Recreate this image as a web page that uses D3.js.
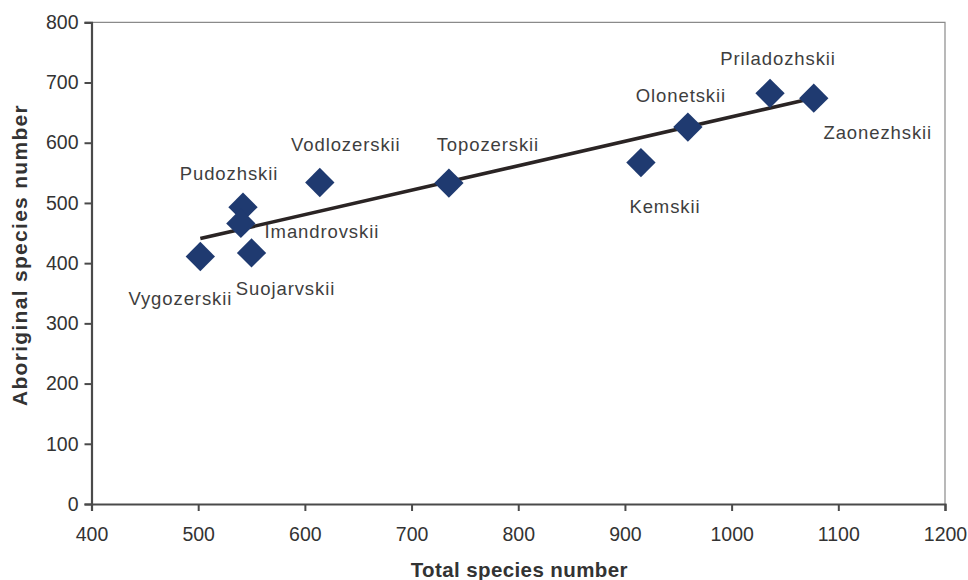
<!DOCTYPE html>
<html>
<head>
<meta charset="utf-8">
<script src="https://cdn.jsdelivr.net/npm/d3@7"></script>
<style>
  html, body { margin: 0; padding: 0; background: #fff; }
  svg { display: block; font-family: Arial, "Liberation Sans", sans-serif; }
</style>
</head>
<body>
<svg id="chart" width="968" height="580"></svg>
<script>
// Floristic districts: total vs aboriginal species counts
const districts = ["Vygozerskii", "Suojarvskii", "Pudozhskii", "Imandrovskii", "Vodlozerskii",
                   "Topozerskii", "Kemskii", "Olonetskii", "Priladozhskii", "Zaonezhskii"];
const totalSpecies      = [502, 550, 542, 540, 614, 735, 915, 959, 1036, 1077];
const aboriginalSpecies = [411, 417, 493, 466, 534, 533, 567, 626, 682, 674];

const xTicks = [400, 500, 600, 700, 800, 900, 1000, 1100, 1200];
const yTicks = [0, 100, 200, 300, 400, 500, 600, 700, 800];

// label offsets (dx, dy) relative to each marker, in px
const labelOffsets = [
  [-20, 42], [34, 36], [-14, -34], [81, 8], [26, -38],
  [39, -39], [24, 44], [-7, -32], [8, -35], [64, 34]
];

const svg = d3.select("#chart");
const plotLeft = 91.5, plotRight = 945, plotTop = 22.3, plotBottom = 504;

const x = d3.scaleLinear().domain([400, 1200]).range([plotLeft, plotRight]);
const y = d3.scaleLinear().domain([0, 800]).range([plotBottom, plotTop]);

// frame: thin top/right border
svg.append("path")
  .attr("d", `M${plotLeft},${plotTop}H${plotRight}V${plotBottom}`)
  .attr("fill", "none").attr("stroke", "#8a8a8a").attr("stroke-width", 1.2);

// axes
const xAxis = svg.append("g").attr("transform", `translate(0,${plotBottom})`)
  .call(d3.axisBottom(x).tickValues(xTicks).tickFormat(d3.format("d")).tickSize(7).tickPadding(12));
const yAxis = svg.append("g").attr("transform", `translate(${plotLeft},0)`)
  .call(d3.axisLeft(y).tickValues(yTicks).tickFormat(d3.format("d")).tickSize(7).tickPadding(6));

[xAxis, yAxis].forEach(g => {
  g.select(".domain").attr("stroke", "#4a4a4a").attr("stroke-width", 2.2);
  g.selectAll(".tick line").attr("stroke", "#4a4a4a").attr("stroke-width", 2);
  g.selectAll(".tick text").attr("fill", "#333").attr("font-size", 19.5)
    .attr("font-family", "Arial, 'Liberation Sans', sans-serif");
});
xAxis.selectAll(".tick text").attr("dy", "0.9em");

// least-squares trend line across the data range
const n = totalSpecies.length;
const mx = d3.mean(totalSpecies), my = d3.mean(aboriginalSpecies);
let sxy = 0, sxx = 0;
for (let i = 0; i < n; i++) {
  sxy += (totalSpecies[i] - mx) * (aboriginalSpecies[i] - my);
  sxx += (totalSpecies[i] - mx) ** 2;
}
const slope = sxy / sxx, intercept = my - slope * mx;
const [x0, x1] = d3.extent(totalSpecies);
svg.append("line")
  .attr("x1", x(x0)).attr("y1", y(intercept + slope * x0))
  .attr("x2", x(x1)).attr("y2", y(intercept + slope * x1))
  .attr("stroke", "#2a2424").attr("stroke-width", 3.6);

// diamond markers
const diamond = d3.symbol().type(d3.symbolSquare).size(430);
const pts = districts.map((d, i) => ({ name: d, tx: totalSpecies[i], ay: aboriginalSpecies[i], off: labelOffsets[i] }));
svg.append("g").selectAll("path").data(pts).join("path")
  .attr("d", diamond)
  .attr("transform", d => `translate(${x(d.tx)},${y(d.ay)}) rotate(45)`)
  .attr("fill", "#1f3a70");

// district labels
svg.append("g").selectAll("text").data(pts).join("text")
  .attr("x", d => x(d.tx) + d.off[0])
  .attr("y", d => y(d.ay) + d.off[1])
  .attr("text-anchor", "middle").attr("dominant-baseline", "central")
  .attr("font-size", 18.5).attr("letter-spacing", 0.9).attr("fill", "#3e3e3e")
  .text(d => d.name);

// axis titles
svg.append("text")
  .attr("x", (plotLeft + plotRight) / 2 + 1).attr("y", 577)
  .attr("text-anchor", "middle").attr("font-weight", "bold").attr("font-size", 20.5)
  .attr("letter-spacing", 0.4).attr("fill", "#333")
  .text("Total species number");
svg.append("text")
  .attr("transform", "translate(27,255) rotate(-90)")
  .attr("text-anchor", "middle").attr("font-weight", "bold").attr("font-size", 21)
  .attr("letter-spacing", 1.3).attr("fill", "#333")
  .text("Aboriginal species number");
</script>
</body>
</html>
